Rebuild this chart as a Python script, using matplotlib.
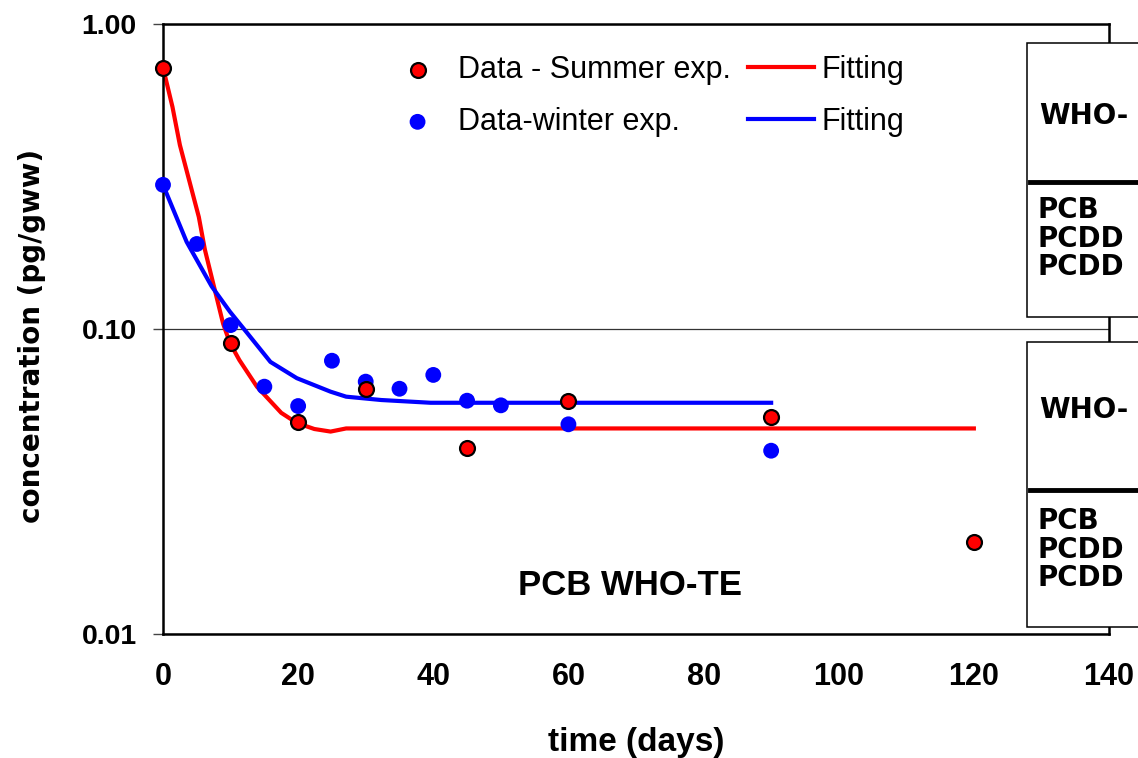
import matplotlib
matplotlib.use("Agg")
import matplotlib.pyplot as plt
from matplotlib.patches import Rectangle
from matplotlib.lines import Line2D

plt.rcParams['font.family'] = ['Liberation Sans', 'DejaVu Sans']

# measured data, summer experiment
days_summer = [0, 10, 20, 30, 45, 60, 90, 120]
conc_summer = [0.72, 0.090, 0.0495, 0.0636, 0.0407, 0.0582, 0.0515, 0.0200]

# measured data, winter experiment
days_winter = [0, 5, 10, 15, 20, 25, 30, 35, 40, 45, 50, 60, 90]
conc_winter = [0.297, 0.190, 0.103, 0.0647, 0.0559, 0.0787, 0.0672, 0.0637,
               0.0707, 0.0582, 0.0562, 0.0487, 0.0399]

# fitted curves
fit_summer_x = [0, 1.4, 2.5, 5.3, 6.2, 8.9, 9.9, 11.3, 13.9, 17.5, 19.8, 22.4, 24.8, 27.1, 120]
fit_summer_y = [0.72, 0.535, 0.401, 0.233, 0.182, 0.104, 0.090, 0.0791, 0.0647, 0.0531,
                0.0492, 0.0470, 0.0461, 0.0472, 0.0472]
fit_winter_x = [0, 3.5, 7.2, 9.9, 12.3, 15.9, 19.8, 24.8, 27.1, 32.3, 39.6, 90]
fit_winter_y = [0.297, 0.193, 0.138, 0.114, 0.098, 0.078, 0.069, 0.0623, 0.060, 0.0585,
                0.0573, 0.0573]

# text in the two side boxes (cut off by the picture edge)
box_title = 'WHO-'
box_rows = ['PCB', 'PCDD', 'PCDD']

fig = plt.figure(figsize=(11.38, 7.58), dpi=100)
W, H = 1138, 758
ax = fig.add_axes([163 / W, 1 - 634 / H, (1109 - 163) / W, (634 - 24) / H])

l_sum, = ax.plot(fit_summer_x, fit_summer_y, color='#ff0000', lw=3, zorder=2)
l_win, = ax.plot(fit_winter_x, fit_winter_y, color='#0000ff', lw=3, zorder=2)
s_sum = ax.scatter(days_summer, conc_summer, s=115, c='#ff0000', edgecolors='black',
                   linewidths=1.6, zorder=4, clip_on=False)
s_win = ax.scatter(days_winter, conc_winter, s=130, c='#0000ff', edgecolors='none',
                   zorder=3, clip_on=False)

ax.set_yscale('log')
ax.set_ylim(0.01, 1.0)
ax.set_xlim(0, 140)
ax.set_yticks([0.01, 0.1, 1.0])
ax.set_yticklabels(['0.01', '0.10', '1.00'])
ax.yaxis.set_minor_locator(plt.NullLocator())
ax.set_xticks(range(0, 141, 20))
ax.tick_params(axis='y', direction='out', length=7, width=1, color='#444444', pad=12,
               labelsize=20.5)
ax.tick_params(axis='x', length=0, pad=20, labelsize=22)
for lab in ax.get_yticklabels():
    lab.set_fontweight('bold')
for lab in ax.get_xticklabels():
    lab.set_fontweight('bold')
    lab.set_family(['Liberation Sans Narrow', 'Liberation Sans'])
ax.yaxis.grid(True, color='#333333', lw=0.9)
ax.set_axisbelow(True)
for sp in ax.spines.values():
    sp.set_linewidth(1.8)

ax.set_xlabel('time (days)', fontsize=24, fontweight='bold')
ax.xaxis.set_label_coords(0.5, -0.178)
ax.xaxis.label.set_va('center')
ax.set_ylabel('concentration (pg/gww)', fontsize=20, fontweight='bold',
              family=['DejaVu Sans'])
ax.yaxis.set_label_coords(-0.138, 0.488)
ax.yaxis.label.set_va('center')

ax.text(0.494, 0.080, 'PCB WHO-TE', transform=ax.transAxes, ha='center', va='center',
        fontsize=25, fontweight='bold')

# legends: markers column and lines column
leg1 = ax.legend([s_sum, s_win], ['Data - Summer exp.', 'Data-winter exp.'],
                 loc='center left', bbox_to_anchor=(387 / W, 1 - 96 / H),
                 bbox_transform=fig.transFigure, frameon=False, fontsize=22,
                 handlelength=2.0, handletextpad=0.34, labelspacing=0.71,
                 borderpad=0, borderaxespad=0)
ax.add_artist(leg1)
ax.legend([l_sum, l_win], ['Fitting', 'Fitting'],
          loc='center left', bbox_to_anchor=(748 / W, 1 - 96 / H),
          bbox_transform=fig.transFigure, frameon=False, fontsize=22,
          handlelength=2.16, handletextpad=0.26, labelspacing=0.71,
          borderpad=0, borderaxespad=0)

# the two cut-off table boxes at the right edge
boxes = [(43, 317, 116, 182, [210, 239, 267]),
         (342, 627, 410, 490, [521, 550, 578])]
for top, bot, y_head, y_rule, y_rows in boxes:
    fig.add_artist(Rectangle((1027 / W, 1 - bot / H), 0.2, (bot - top) / H,
                             transform=fig.transFigure, facecolor='white',
                             edgecolor='black', lw=1.1, zorder=10))
    fig.text(1039 / W, 1 - y_head / H, box_title, fontsize=20, fontweight='bold',
             family=['DejaVu Sans'], va='center', ha='left', zorder=11)
    fig.add_artist(Line2D([1030 / W, 1.1], [1 - y_rule / H] * 2,
                          transform=fig.transFigure, color='black', lw=3.5, zorder=11))
    for yr, name in zip(y_rows, box_rows):
        fig.text(1038 / W, 1 - yr / H, name, fontsize=20, fontweight='bold',
                 family=['DejaVu Sans'], va='center', ha='left', zorder=11)

fig.savefig('out.png', dpi=100)
